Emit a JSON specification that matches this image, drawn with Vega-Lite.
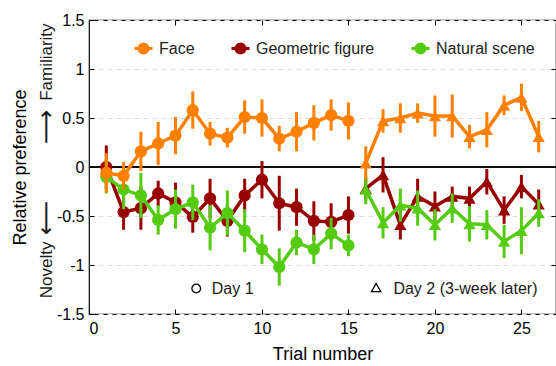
{
  "$schema": "https://vega.github.io/schema/vega-lite/v6.json",
  "width": 467,
  "height": 294,
  "autosize": {"type": "none"},
  "padding": {"left": 89, "top": 20, "right": 0, "bottom": 52},
  "background": "white",
  "config": {
    "font": "Liberation Sans",
    "view": {"stroke": "black", "strokeWidth": 1.2},
    "axis": {"domain": false, "tickColor": "black", "tickWidth": 1, "tickSize": -5, "labelColor": "black", "labelFontSize": 16, "titleFontSize": 18, "titleFontWeight": "normal", "titleColor": "black", "grid": false}
  },
  "data": {"values": [
    {"t":1,"s":"Face","d":"Day 1","v":-0.06,"lo":-0.26,"hi":0.14},
    {"t":2,"s":"Face","d":"Day 1","v":-0.09,"lo":-0.23,"hi":0.05},
    {"t":3,"s":"Face","d":"Day 1","v":0.16,"lo":-0.04,"hi":0.36},
    {"t":4,"s":"Face","d":"Day 1","v":0.24,"lo":0.02,"hi":0.46},
    {"t":5,"s":"Face","d":"Day 1","v":0.32,"lo":0.13,"hi":0.51},
    {"t":6,"s":"Face","d":"Day 1","v":0.58,"lo":0.39,"hi":0.77},
    {"t":7,"s":"Face","d":"Day 1","v":0.34,"lo":0.22,"hi":0.46},
    {"t":8,"s":"Face","d":"Day 1","v":0.30,"lo":0.20,"hi":0.40},
    {"t":9,"s":"Face","d":"Day 1","v":0.51,"lo":0.34,"hi":0.68},
    {"t":10,"s":"Face","d":"Day 1","v":0.50,"lo":0.31,"hi":0.69},
    {"t":11,"s":"Face","d":"Day 1","v":0.29,"lo":0.16,"hi":0.42},
    {"t":12,"s":"Face","d":"Day 1","v":0.36,"lo":0.16,"hi":0.56},
    {"t":13,"s":"Face","d":"Day 1","v":0.45,"lo":0.27,"hi":0.63},
    {"t":14,"s":"Face","d":"Day 1","v":0.53,"lo":0.37,"hi":0.69},
    {"t":15,"s":"Face","d":"Day 1","v":0.47,"lo":0.28,"hi":0.66},
    {"t":16,"s":"Face","d":"Day 2","v":0.04,"lo":-0.13,"hi":0.21},
    {"t":17,"s":"Face","d":"Day 2","v":0.47,"lo":0.35,"hi":0.59},
    {"t":18,"s":"Face","d":"Day 2","v":0.50,"lo":0.35,"hi":0.65},
    {"t":19,"s":"Face","d":"Day 2","v":0.55,"lo":0.45,"hi":0.65},
    {"t":20,"s":"Face","d":"Day 2","v":0.52,"lo":0.31,"hi":0.73},
    {"t":21,"s":"Face","d":"Day 2","v":0.52,"lo":0.30,"hi":0.74},
    {"t":22,"s":"Face","d":"Day 2","v":0.31,"lo":0.19,"hi":0.43},
    {"t":23,"s":"Face","d":"Day 2","v":0.38,"lo":0.20,"hi":0.56},
    {"t":24,"s":"Face","d":"Day 2","v":0.63,"lo":0.53,"hi":0.73},
    {"t":25,"s":"Face","d":"Day 2","v":0.71,"lo":0.57,"hi":0.85},
    {"t":26,"s":"Face","d":"Day 2","v":0.31,"lo":0.15,"hi":0.47},
    {"t":1,"s":"Geometric figure","d":"Day 1","v":0.0,"lo":-0.22,"hi":0.22},
    {"t":2,"s":"Geometric figure","d":"Day 1","v":-0.46,"lo":-0.64,"hi":-0.28},
    {"t":3,"s":"Geometric figure","d":"Day 1","v":-0.42,"lo":-0.64,"hi":-0.20},
    {"t":4,"s":"Geometric figure","d":"Day 1","v":-0.27,"lo":-0.40,"hi":-0.14},
    {"t":5,"s":"Geometric figure","d":"Day 1","v":-0.36,"lo":-0.56,"hi":-0.16},
    {"t":6,"s":"Geometric figure","d":"Day 1","v":-0.51,"lo":-0.67,"hi":-0.35},
    {"t":7,"s":"Geometric figure","d":"Day 1","v":-0.32,"lo":-0.52,"hi":-0.12},
    {"t":8,"s":"Geometric figure","d":"Day 1","v":-0.55,"lo":-0.71,"hi":-0.39},
    {"t":9,"s":"Geometric figure","d":"Day 1","v":-0.29,"lo":-0.46,"hi":-0.12},
    {"t":10,"s":"Geometric figure","d":"Day 1","v":-0.13,"lo":-0.32,"hi":0.06},
    {"t":11,"s":"Geometric figure","d":"Day 1","v":-0.37,"lo":-0.65,"hi":-0.09},
    {"t":12,"s":"Geometric figure","d":"Day 1","v":-0.41,"lo":-0.60,"hi":-0.22},
    {"t":13,"s":"Geometric figure","d":"Day 1","v":-0.55,"lo":-0.75,"hi":-0.35},
    {"t":14,"s":"Geometric figure","d":"Day 1","v":-0.56,"lo":-0.75,"hi":-0.37},
    {"t":15,"s":"Geometric figure","d":"Day 1","v":-0.49,"lo":-0.68,"hi":-0.30},
    {"t":16,"s":"Geometric figure","d":"Day 2","v":-0.22,"lo":-0.34,"hi":-0.10},
    {"t":17,"s":"Geometric figure","d":"Day 2","v":-0.08,"lo":-0.26,"hi":0.10},
    {"t":18,"s":"Geometric figure","d":"Day 2","v":-0.59,"lo":-0.74,"hi":-0.44},
    {"t":19,"s":"Geometric figure","d":"Day 2","v":-0.30,"lo":-0.48,"hi":-0.12},
    {"t":20,"s":"Geometric figure","d":"Day 2","v":-0.40,"lo":-0.55,"hi":-0.25},
    {"t":21,"s":"Geometric figure","d":"Day 2","v":-0.30,"lo":-0.40,"hi":-0.20},
    {"t":22,"s":"Geometric figure","d":"Day 2","v":-0.32,"lo":-0.44,"hi":-0.20},
    {"t":23,"s":"Geometric figure","d":"Day 2","v":-0.15,"lo":-0.28,"hi":-0.02},
    {"t":24,"s":"Geometric figure","d":"Day 2","v":-0.44,"lo":-0.58,"hi":-0.30},
    {"t":25,"s":"Geometric figure","d":"Day 2","v":-0.20,"lo":-0.32,"hi":-0.08},
    {"t":26,"s":"Geometric figure","d":"Day 2","v":-0.38,"lo":-0.53,"hi":-0.23},
    {"t":1,"s":"Natural scene","d":"Day 1","v":-0.10,"lo":-0.27,"hi":0.07},
    {"t":2,"s":"Natural scene","d":"Day 1","v":-0.23,"lo":-0.43,"hi":-0.03},
    {"t":3,"s":"Natural scene","d":"Day 1","v":-0.29,"lo":-0.52,"hi":-0.06},
    {"t":4,"s":"Natural scene","d":"Day 1","v":-0.54,"lo":-0.69,"hi":-0.39},
    {"t":5,"s":"Natural scene","d":"Day 1","v":-0.43,"lo":-0.63,"hi":-0.23},
    {"t":6,"s":"Natural scene","d":"Day 1","v":-0.36,"lo":-0.54,"hi":-0.18},
    {"t":7,"s":"Natural scene","d":"Day 1","v":-0.62,"lo":-0.85,"hi":-0.39},
    {"t":8,"s":"Natural scene","d":"Day 1","v":-0.47,"lo":-0.70,"hi":-0.24},
    {"t":9,"s":"Natural scene","d":"Day 1","v":-0.65,"lo":-0.87,"hi":-0.43},
    {"t":10,"s":"Natural scene","d":"Day 1","v":-0.84,"lo":-0.99,"hi":-0.69},
    {"t":11,"s":"Natural scene","d":"Day 1","v":-1.02,"lo":-1.21,"hi":-0.83},
    {"t":12,"s":"Natural scene","d":"Day 1","v":-0.77,"lo":-0.90,"hi":-0.64},
    {"t":13,"s":"Natural scene","d":"Day 1","v":-0.84,"lo":-0.99,"hi":-0.69},
    {"t":14,"s":"Natural scene","d":"Day 1","v":-0.68,"lo":-0.84,"hi":-0.52},
    {"t":15,"s":"Natural scene","d":"Day 1","v":-0.80,"lo":-0.91,"hi":-0.69},
    {"t":16,"s":"Natural scene","d":"Day 2","v":-0.23,"lo":-0.38,"hi":-0.08},
    {"t":17,"s":"Natural scene","d":"Day 2","v":-0.57,"lo":-0.73,"hi":-0.41},
    {"t":18,"s":"Natural scene","d":"Day 2","v":-0.39,"lo":-0.56,"hi":-0.22},
    {"t":19,"s":"Natural scene","d":"Day 2","v":-0.42,"lo":-0.60,"hi":-0.24},
    {"t":20,"s":"Natural scene","d":"Day 2","v":-0.59,"lo":-0.75,"hi":-0.43},
    {"t":21,"s":"Natural scene","d":"Day 2","v":-0.42,"lo":-0.57,"hi":-0.27},
    {"t":22,"s":"Natural scene","d":"Day 2","v":-0.58,"lo":-0.76,"hi":-0.40},
    {"t":23,"s":"Natural scene","d":"Day 2","v":-0.59,"lo":-0.74,"hi":-0.44},
    {"t":24,"s":"Natural scene","d":"Day 2","v":-0.76,"lo":-0.93,"hi":-0.59},
    {"t":25,"s":"Natural scene","d":"Day 2","v":-0.65,"lo":-0.89,"hi":-0.41},
    {"t":26,"s":"Natural scene","d":"Day 2","v":-0.47,"lo":-0.61,"hi":-0.33}
  ]},
  "layer": [
    {
      "data": {"values": [{"k": 0}]},
      "mark": {"type": "rule", "color": "black", "strokeWidth": 1.3},
      "encoding": {
        "y": {"datum": 0, "type": "quantitative", "scale": {"domain": [-1.5, 1.5], "nice": false, "zero": false},
          "axis": {"orient": "left", "values": [-1.5, -1, -0.5, 0, 0.5, 1, 1.5], "labelExpr": "'' + datum.value", "labelPadding": 10, "grid": true, "gridDash": [5, 4], "gridColor": "#dddddd", "gridWidth": 1, "title": "Relative preference", "titlePadding": 27}}
      }
    },
    {
      "data": {"values": [{"k": 0}]},
      "mark": {"type": "rule", "color": "black", "strokeWidth": 1.3},
      "encoding": {
        "y": {"datum": 0, "type": "quantitative",
          "axis": {"orient": "right", "values": [-1, -0.5, 0, 0.5, 1], "labels": false, "title": null}}
      }
    },
    {
      "transform": [{"filter": "datum.s === 'Geometric figure'"}],
      "encoding": {
        "x": {"field": "t", "type": "quantitative", "scale": {"domain": [0, 27], "nice": false, "zero": false}, "axis": null},
        "color": {"field": "s", "type": "nominal", "scale": {"domain": ["Face", "Geometric figure", "Natural scene"], "range": ["#ff8000", "#990000", "#55cc11"]}}
      },
      "layer": [
        {"mark": {"type": "rule", "strokeWidth": 3}, "encoding": {"y": {"field": "lo", "type": "quantitative", "axis": null}, "y2": {"field": "hi"}}},
        {"mark": {"type": "line", "strokeWidth": 3.5}, "encoding": {"y": {"field": "v", "type": "quantitative", "axis": null}, "detail": {"field": "d"}}},
        {"mark": {"type": "point", "filled": true, "opacity": 1, "size": 150}, "encoding": {"y": {"field": "v", "type": "quantitative", "axis": null}, "shape": {"field": "d", "type": "nominal", "scale": {"domain": ["Day 1", "Day 2"], "range": ["circle", "triangle-up"]}, "legend": null}}}
      ]
    },
    {
      "transform": [{"filter": "datum.s === 'Natural scene'"}],
      "encoding": {
        "x": {"field": "t", "type": "quantitative", "axis": null},
        "color": {"field": "s", "type": "nominal"}
      },
      "layer": [
        {"mark": {"type": "rule", "strokeWidth": 3}, "encoding": {"y": {"field": "lo", "type": "quantitative", "axis": null}, "y2": {"field": "hi"}}},
        {"mark": {"type": "line", "strokeWidth": 3.5}, "encoding": {"y": {"field": "v", "type": "quantitative", "axis": null}, "detail": {"field": "d"}}},
        {"mark": {"type": "point", "filled": true, "opacity": 1, "size": 150}, "encoding": {"y": {"field": "v", "type": "quantitative", "axis": null}, "shape": {"field": "d", "type": "nominal", "legend": null}}}
      ]
    },
    {
      "transform": [{"filter": "datum.s === 'Face'"}],
      "encoding": {
        "x": {"field": "t", "type": "quantitative", "axis": null},
        "color": {"field": "s", "type": "nominal"}
      },
      "layer": [
        {"mark": {"type": "rule", "strokeWidth": 3}, "encoding": {"y": {"field": "lo", "type": "quantitative", "axis": null}, "y2": {"field": "hi"}}},
        {"mark": {"type": "line", "strokeWidth": 3.5}, "encoding": {"y": {"field": "v", "type": "quantitative", "axis": null}, "detail": {"field": "d"}}},
        {"mark": {"type": "point", "filled": true, "opacity": 1, "size": 150}, "encoding": {"y": {"field": "v", "type": "quantitative", "axis": null}, "shape": {"field": "d", "type": "nominal", "legend": null}}}
      ]
    },
    {
      "data": {"values": [{"s": "Face"}, {"s": "Geometric figure"}, {"s": "Natural scene"}]},
      "mark": {"type": "point", "opacity": 0},
      "encoding": {
        "x": {"datum": 5, "type": "quantitative", "axis": {"orient": "top", "values": [5, 10, 15, 20, 25], "labels": false, "title": null}},
        "y": {"datum": 0, "type": "quantitative", "axis": null},
        "color": {"field": "s", "type": "nominal",
          "legend": {"orient": "none", "legendX": 44, "legendY": 18, "direction": "horizontal", "title": null,
            "symbolType": "M-1,0H1M0.5,0A0.5,0.5,0,1,1,-0.5,0A0.5,0.5,0,1,1,0.5,0",
            "symbolSize": 324, "symbolStrokeWidth": 3, "symbolOpacity": 1, "labelFontSize": 16, "labelColor": "#222222", "labelOffset": 5, "columnPadding": 30,
            "encode": {"symbols": {"update": {
              "fill": {"signal": "datum.value === 'Face' ? '#ff8844' : datum.value === 'Geometric figure' ? '#cc0022' : '#77cc11'"},
              "stroke": {"signal": "datum.value === 'Face' ? '#ff8844' : datum.value === 'Geometric figure' ? '#cc0022' : '#77cc11'"},
              "opacity": {"value": 1}, "strokeWidth": {"value": 3}}}}}}
      }
    },
    {
      "data": {"values": [{"k": 0}]},
      "mark": {"type": "point", "shape": "circle", "filled": false, "stroke": "black", "strokeWidth": 1.3, "size": 75, "opacity": 1},
      "encoding": {"x": {"datum": 6.2, "type": "quantitative", "axis": {"orient": "bottom", "values": [0, 5, 10, 15, 20, 25], "labelPadding": 11, "title": "Trial number", "titlePadding": 9}}, "y": {"datum": -1.24, "type": "quantitative", "axis": null}}
    },
    {
      "data": {"values": [{"k": 0}]},
      "mark": {"type": "point", "shape": "triangle-up", "filled": false, "stroke": "black", "strokeWidth": 1.3, "size": 85, "opacity": 1},
      "encoding": {"x": {"datum": 16.6, "type": "quantitative", "axis": null}, "y": {"datum": -1.23, "type": "quantitative", "axis": null}}
    },
    {
      "data": {"values": [{"k": 0}]},
      "mark": {"type": "text", "text": "Day 1", "align": "left", "baseline": "middle", "fontSize": 16, "fill": "#1a1a1a"},
      "encoding": {"x": {"datum": 7.1, "type": "quantitative", "axis": null}, "y": {"datum": -1.24, "type": "quantitative", "axis": null}}
    },
    {
      "data": {"values": [{"k": 0}]},
      "mark": {"type": "text", "text": "Day 2 (3-week later)", "align": "left", "baseline": "middle", "fontSize": 16, "fill": "#1a1a1a"},
      "encoding": {"x": {"datum": 17.6, "type": "quantitative", "axis": null}, "y": {"datum": -1.24, "type": "quantitative", "axis": null}}
    },
    {
      "data": {"values": [{"k": 0}]},
      "mark": {"type": "text", "text": "Familiarity", "angle": 270, "align": "center", "baseline": "middle", "fontSize": 17, "fill": "#1a1a1a"},
      "encoding": {"x": {"datum": -2.45, "type": "quantitative", "axis": null}, "y": {"datum": 1.07, "type": "quantitative", "axis": null}}
    },
    {
      "data": {"values": [{"k": 0}]},
      "mark": {"type": "text", "text": "⟶", "angle": 270, "align": "center", "baseline": "middle", "fontSize": 24, "font": "DejaVu Sans", "fill": "#1a1a1a"},
      "encoding": {"x": {"datum": -2.45, "type": "quantitative", "axis": null}, "y": {"datum": 0.41, "type": "quantitative", "axis": null}}
    },
    {
      "data": {"values": [{"k": 0}]},
      "mark": {"type": "text", "text": "⟵", "angle": 270, "align": "center", "baseline": "middle", "fontSize": 24, "font": "DejaVu Sans", "fill": "#1a1a1a"},
      "encoding": {"x": {"datum": -2.45, "type": "quantitative", "axis": null}, "y": {"datum": -0.52, "type": "quantitative", "axis": null}}
    },
    {
      "data": {"values": [{"k": 0}]},
      "mark": {"type": "text", "text": "Novelty", "angle": 270, "align": "center", "baseline": "middle", "fontSize": 17, "fill": "#1a1a1a"},
      "encoding": {"x": {"datum": -2.45, "type": "quantitative", "axis": null}, "y": {"datum": -1.05, "type": "quantitative", "axis": null}}
    }
  ]
}
